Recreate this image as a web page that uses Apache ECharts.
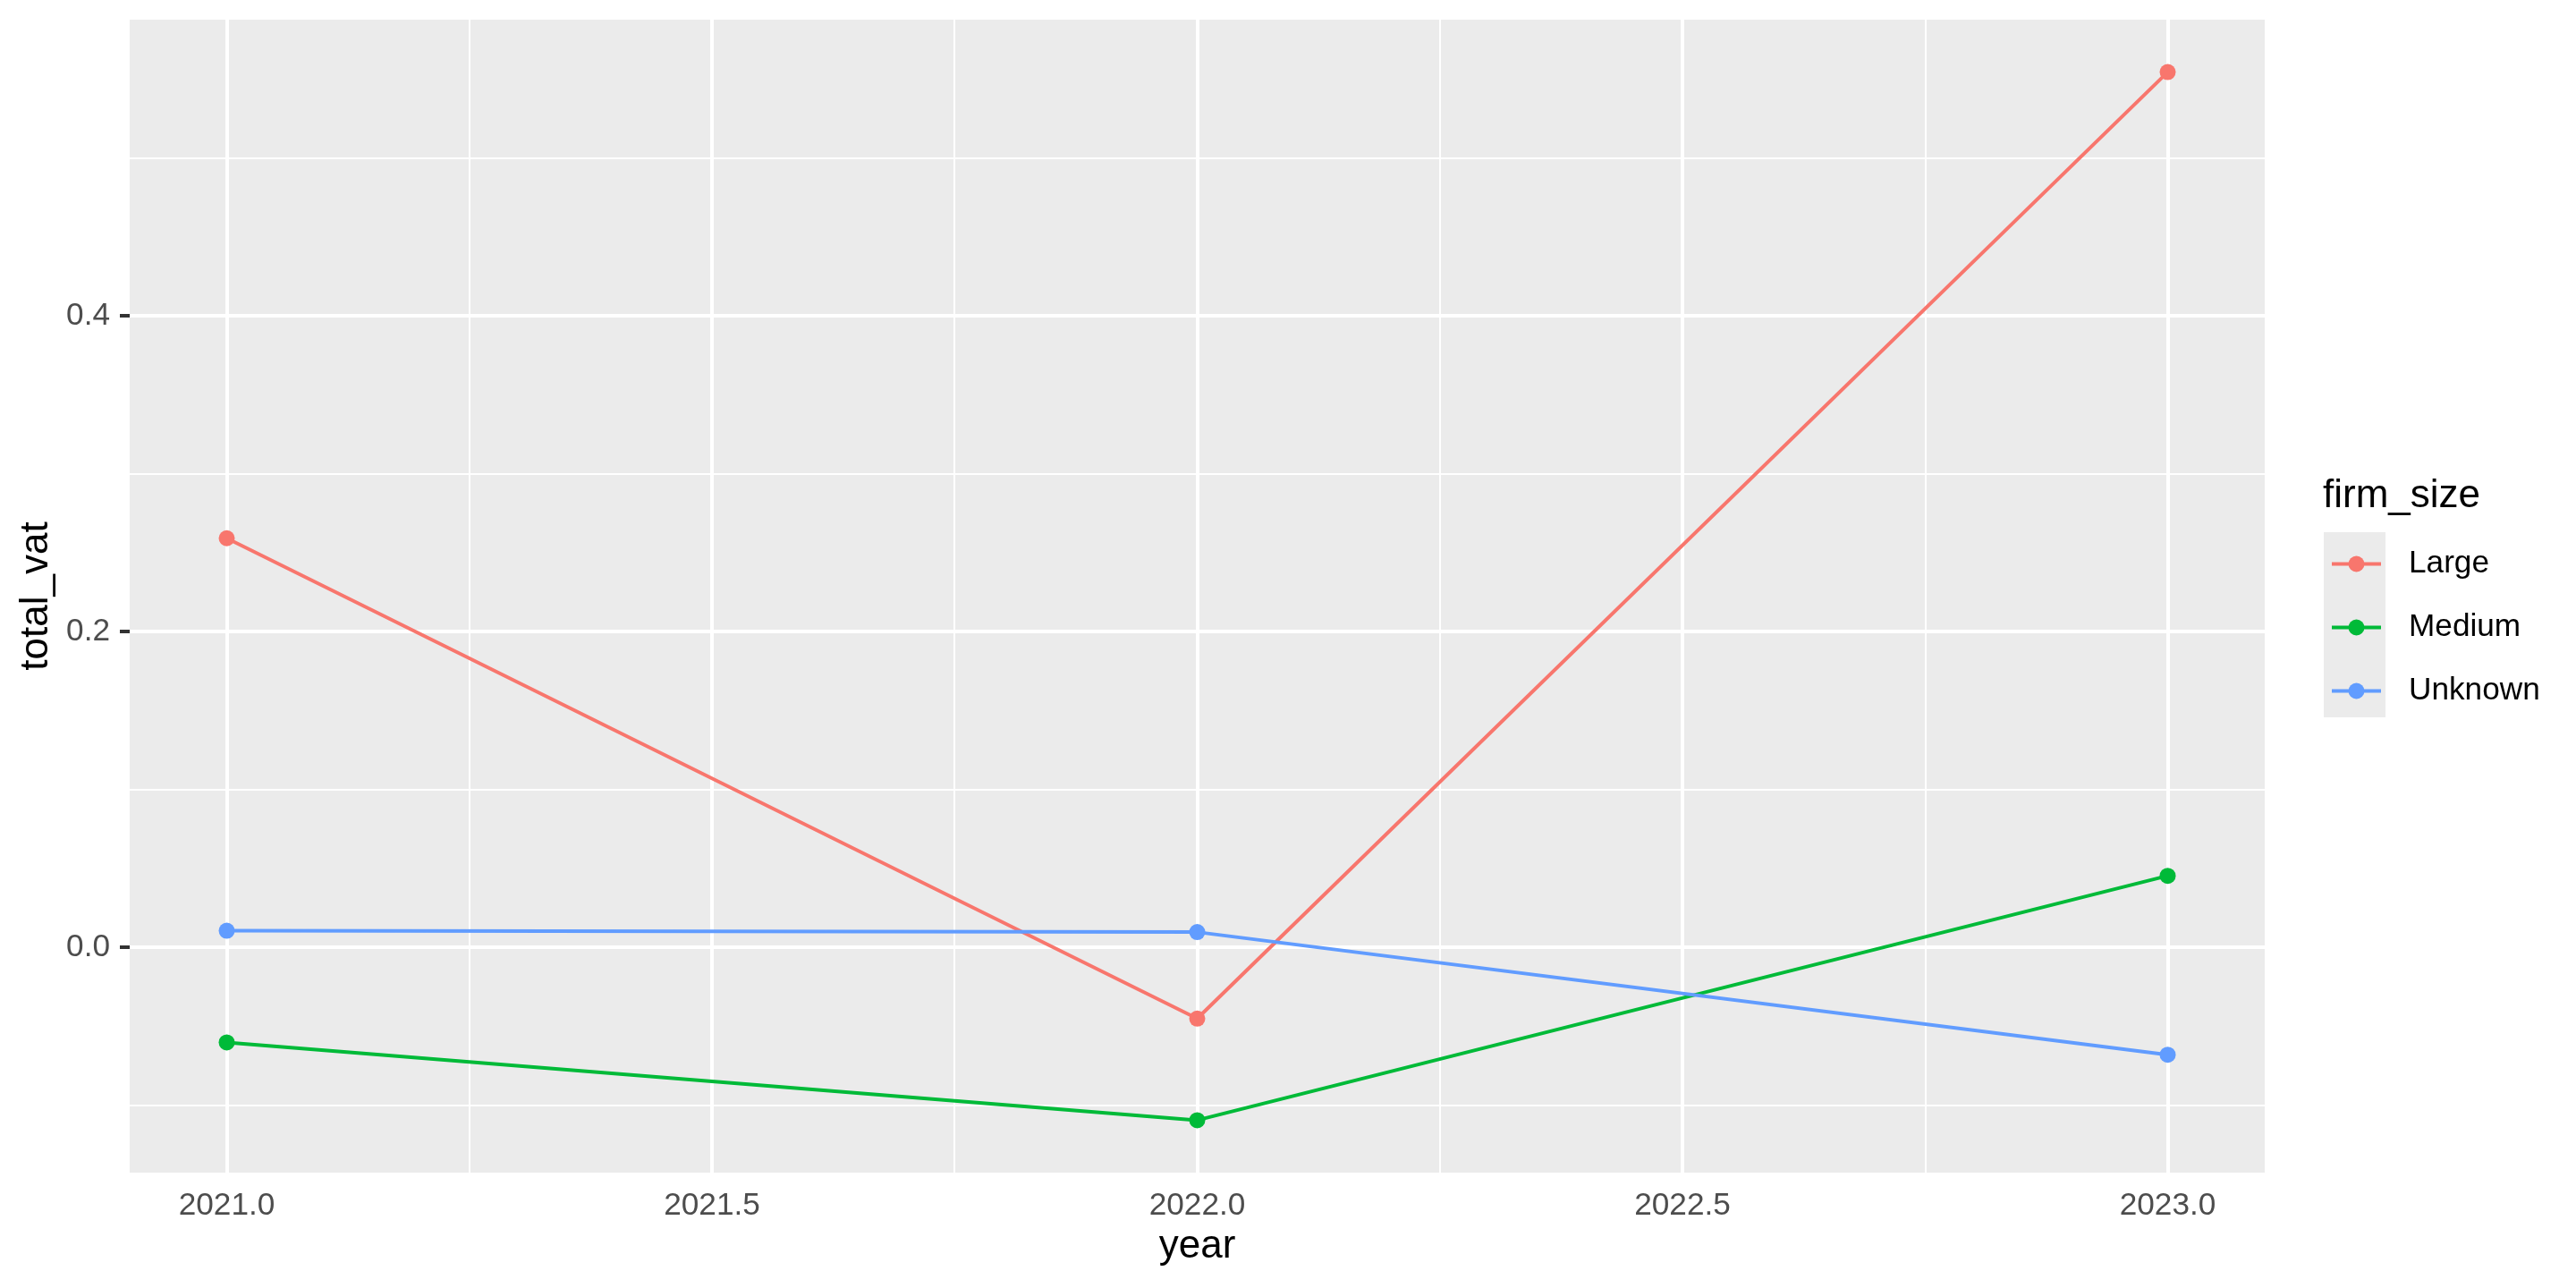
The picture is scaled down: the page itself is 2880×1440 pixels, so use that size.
<!DOCTYPE html>
<html>
<head>
<meta charset="utf-8">
<script src="https://cdn.jsdelivr.net/npm/echarts@6/dist/echarts.min.js"></script>
<style>
  html, body { margin: 0; padding: 0; background: #ffffff; }
  #chart { width: 2880px; height: 1440px; }
</style>
</head>
<body>
<div id="chart"></div>
<script>
// ---- data ----
const years = [2021, 2022, 2023];
const seriesNames = ['Large', 'Medium', 'Unknown'];
const largeValues = [0.2591, -0.0453, 0.5545];
const mediumValues = [-0.0604, -0.1097, 0.0452];
const unknownValues = [0.0104, 0.0095, -0.0682];
const xTickValues = [2021, 2021.5, 2022, 2022.5, 2023];
const xMinorValues = [2021.25, 2021.75, 2022.25, 2022.75];
const yTickValues = [0.0, 0.2, 0.4];
const yMinorValues = [-0.1, 0.1, 0.3, 0.5];

const colors = ['#F8766D', '#00BA38', '#619CFF'];
const FONT = '"Liberation Sans", Arial, sans-serif';

// ggplot-like 5% expansion
const allY = largeValues.concat(mediumValues, unknownValues);
const yLo = Math.min(...allY), yHi = Math.max(...allY);
const yPad = (yHi - yLo) * 0.05;
const xLo = Math.min(...years), xHi = Math.max(...years);
const xPad = (xHi - xLo) * 0.05;

const valuesList = [largeValues, mediumValues, unknownValues];
const lineSeries = seriesNames.map((name, i) => ({
  name: name,
  type: 'line',
  z: 3,
  data: years.map((y, j) => [y, valuesList[i][j]]),
  symbol: 'circle',
  symbolSize: 18,
  showSymbol: true,
  lineStyle: { color: colors[i], width: 4 },
  itemStyle: { color: colors[i] },
  emphasis: { disabled: true },
  animation: false
}));

const gridSeries = {
  name: '__grid',
  type: 'line',
  data: [],
  silent: true,
  markLine: {
    z: 1,
    silent: true,
    animation: false,
    symbol: ['none', 'none'],
    label: { show: false },
    emphasis: { disabled: true },
    data: [].concat(
      xMinorValues.map(v => ({ xAxis: v, lineStyle: { color: '#ffffff', width: 2, type: 'solid' } })),
      yMinorValues.map(v => ({ yAxis: v, lineStyle: { color: '#ffffff', width: 2, type: 'solid' } })),
      xTickValues.map(v => ({ xAxis: v, lineStyle: { color: '#ffffff', width: 4, type: 'solid' } })),
      yTickValues.map(v => ({ yAxis: v, lineStyle: { color: '#ffffff', width: 4, type: 'solid' } }))
    )
  }
};

const chart = echarts.init(document.getElementById('chart'), null, { renderer: 'canvas' });
chart.setOption({
  animation: false,
  backgroundColor: '#ffffff',
  textStyle: { fontFamily: FONT },
  grid: {
    left: 145, top: 22, right: 348, bottom: 129,
    show: true, backgroundColor: '#EBEBEB', borderWidth: 0
  },
  title: {
    text: 'firm_size',
    left: 2597, top: 533,
    padding: 0,
    textStyle: { fontFamily: FONT, fontSize: 44, fontWeight: 'normal', color: '#000000' }
  },
  legend: {
    orient: 'vertical',
    left: 2605, top: 613,
    padding: 0,
    itemWidth: 55, itemHeight: 22.5, itemGap: 36,
    data: seriesNames,
    lineStyle: { width: 4 },
    textStyle: { fontFamily: FONT, fontSize: 35.2, color: '#000000', lineHeight: 22.5, padding: [0, 0, 0, 26] },
    selectedMode: false
  },
  graphic: [{
    type: 'rect',
    left: 2598, top: 595, z: -1,
    shape: { width: 69, height: 207 },
    style: { fill: '#EBEBEB' },
    silent: true
  }],
  xAxis: {
    type: 'value',
    min: xLo - xPad, max: xHi + xPad,
    name: 'year',
    nameLocation: 'middle',
    nameGap: 61,
    nameTextStyle: { fontFamily: FONT, fontSize: 44, color: '#000000' },
    axisLine: { show: false },
    axisTick: { show: true, length: 11, lineStyle: { color: '#333333', width: 4 }, customValues: xTickValues },
    axisLabel: {
      customValues: xTickValues,
      margin: 20,
      fontFamily: FONT, fontSize: 35.2, color: '#4D4D4D',
      formatter: v => Number(v).toFixed(1)
    },
    splitLine: { show: false }
  },
  yAxis: {
    type: 'value',
    min: yLo - yPad, max: yHi + yPad,
    name: 'total_vat',
    nameLocation: 'middle',
    nameRotate: 90,
    nameGap: 70,
    nameTextStyle: { fontFamily: FONT, fontSize: 44, color: '#000000' },
    axisLine: { show: false },
    axisTick: { show: true, length: 11, lineStyle: { color: '#333333', width: 4 }, customValues: yTickValues },
    axisLabel: {
      customValues: yTickValues,
      margin: 22,
      fontFamily: FONT, fontSize: 35.2, color: '#4D4D4D',
      formatter: v => Number(v).toFixed(1)
    },
    splitLine: { show: false }
  },
  series: [gridSeries].concat(lineSeries)
});
</script>
</body>
</html>
